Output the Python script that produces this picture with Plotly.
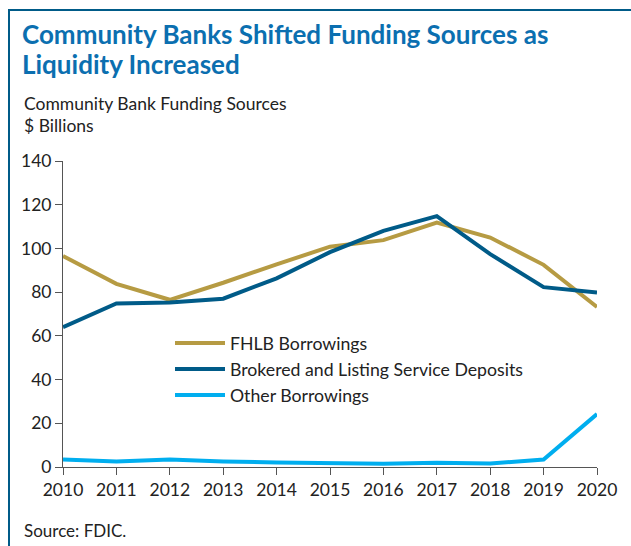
import plotly.graph_objects as go

years = [2010, 2011, 2012, 2013, 2014, 2015, 2016, 2017, 2018, 2019, 2020]
fhlb = [96.5, 83.8, 76.5, 84.3, 92.7, 100.8, 103.8, 111.8, 105.0, 92.5, 73.2]
brokered = [64.0, 74.8, 75.3, 77.0, 86.3, 98.3, 108.0, 114.8, 97.4, 82.3, 79.8]
other = [3.4, 2.5, 3.4, 2.5, 2.1, 1.8, 1.5, 1.9, 1.6, 3.4, 24.2]
y_ticks = [0, 20, 40, 60, 80, 100, 120, 140]

names = ["FHLB Borrowings", "Brokered and Listing Service Deposits", "Other Borrowings"]
colors = ["#b69b43", "#005b88", "#00aeef"]

FONT = "Source Sans Pro, Lato, sans-serif"

fig = go.Figure()
for n, vals, c in zip(names, [fhlb, brokered, other], colors):
    fig.add_trace(go.Scatter(x=years, y=vals, mode="lines", name=n,
                             line=dict(color=c, width=4)))

W, H = 631, 546
L, R, T, B = 63, 34, 161, 79
pw, ph = W - L - R, H - T - B

def px(x):
    return (x - L) / pw

def py(y):
    return (H - B - y) / ph

fig.update_layout(
    width=W, height=H,
    margin=dict(l=L, r=R, t=T, b=B),
    paper_bgcolor="white", plot_bgcolor="white",
    font=dict(family=FONT, size=17, color="#222222"),
    showlegend=True,
    legend=dict(x=px(170), y=py(325), xanchor="left", yanchor="top",
                font=dict(size=17.7, color="#222222"), bgcolor="rgba(0,0,0,0)",
                tracegroupgap=0, itemwidth=50),
    xaxis=dict(range=[2010, 2020], tickmode="array", tickvals=years,
               showgrid=False, zeroline=False, showline=True, linecolor="#555555",
               linewidth=1, ticks="outside", ticklen=7, tickcolor="#555555",
               tickfont=dict(size=17.5, color="#222222")),
    yaxis=dict(range=[0, 140], tickmode="array", tickvals=y_ticks,
               showgrid=False, zeroline=False, showline=True, linecolor="#555555",
               linewidth=1, ticks="outside", ticklen=7, tickcolor="#555555",
               tickfont=dict(size=17.5, color="#222222")),
)

for txt, yy in [("Community Banks Shifted Funding Sources as", 34), ("Liquidity Increased", 64)]:
    fig.add_annotation(text="<b>" + txt + "</b>",
                       xref="paper", yref="paper", x=px(20), y=py(yy), xanchor="left", yanchor="middle",
                       showarrow=False, align="left",
                       font=dict(family=FONT, size=26, color="#0b6fb0"))
for txt, yy in [("Community Bank Funding Sources", 103), ("$ Billions", 126)]:
    fig.add_annotation(text=txt,
                       xref="paper", yref="paper", x=px(22), y=py(yy), xanchor="left", yanchor="middle",
                       showarrow=False, align="left",
                       font=dict(family=FONT, size=17.5, color="#222222"))
fig.add_annotation(text="Source: FDIC.",
                   xref="paper", yref="paper", x=px(22), y=py(530), xanchor="left", yanchor="middle",
                   showarrow=False, align="left",
                   font=dict(family=FONT, size=17, color="#222222"))

fig.add_shape(type="rect", xref="paper", yref="paper",
              x0=px(9), x1=px(660), y0=py(580), y1=py(10),
              line=dict(color="#005b88", width=2), fillcolor="rgba(0,0,0,0)")

fig.write_html("out.html", config={"displayModeBar": False},
               post_script="document.body.style.margin='0';document.body.style.overflow='hidden';")
